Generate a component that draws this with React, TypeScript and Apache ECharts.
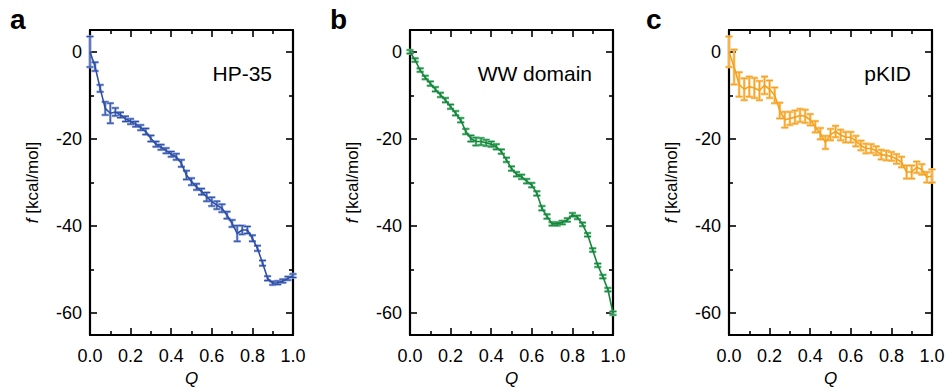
import React, { useEffect, useRef } from "react";
import * as echarts from "echarts";

const Q = [
  0, 0.025, 0.05, 0.075, 0.1, 0.125, 0.15, 0.175, 0.2, 0.225,
  0.25, 0.275, 0.3, 0.325, 0.35, 0.375, 0.4, 0.425, 0.45, 0.475,
  0.5, 0.525, 0.55, 0.575, 0.6, 0.625, 0.65, 0.675, 0.7, 0.725,
  0.75, 0.775, 0.8, 0.825, 0.85, 0.875, 0.9, 0.925, 0.95, 0.975, 1.0,
];

const hpF = [
  0, -3.4, -8.4, -13.0, -14.1, -13.8, -14.5, -15.4, -16.0, -16.6,
  -17.4, -18.3, -19.9, -21.2, -21.9, -22.7, -23.5, -24.1, -25.6, -28.3,
  -29.8, -31.0, -32.1, -33.3, -34.4, -35.2, -35.9, -37.5, -39.4, -41.7,
  -40.9, -40.9, -42.8, -45.1, -48.5, -52.0, -53.1, -53.0, -52.6, -52.0, -51.4,
];
const hpErr = [
  3.5, 1.0, 0.8, 1.5, 2.3, 0.9, 0.6, 0.6, 0.6, 0.6,
  0.6, 0.7, 0.7, 0.6, 0.6, 0.6, 0.6, 0.7, 0.8, 1.0,
  0.8, 0.7, 0.7, 1.0, 1.0, 0.9, 0.9, 0.8, 0.8, 1.8,
  1.0, 0.8, 0.7, 0.6, 0.6, 0.5, 0.4, 0.4, 0.4, 0.4, 0.4,
];

const wwF = [
  0, -1.9, -4.2, -5.9, -7.3, -8.6, -9.9, -11.1, -12.6, -14.1,
  -15.7, -18.3, -19.9, -20.6, -20.6, -20.9, -21.2, -21.8, -22.9, -24.8,
  -26.8, -28.1, -28.7, -29.7, -30.6, -32.5, -35.9, -37.8, -39.5, -39.5,
  -39.2, -38.6, -37.4, -38.0, -39.6, -42.0, -45.5, -49.0, -51.6, -54.6, -60.0,
];
const wwErr = [
  0.4, 0.4, 0.4, 0.4, 0.5, 0.5, 0.5, 0.5, 0.5, 0.5,
  0.5, 0.6, 0.7, 0.9, 0.8, 0.7, 0.6, 0.6, 0.5, 0.5,
  0.5, 0.5, 0.5, 0.5, 0.5, 0.5, 0.5, 0.5, 0.4, 0.4,
  0.4, 0.4, 0.4, 0.4, 0.4, 0.4, 0.4, 0.4, 0.4, 0.4, 0.4,
];

const pkF = [
  0, -3.5, -7.5, -8.6, -8.0, -8.3, -8.9, -7.7, -8.6, -10.0,
  -13.5, -15.6, -15.3, -15.0, -14.6, -14.8, -15.6, -17.2, -18.8, -20.8,
  -19.0, -18.3, -19.1, -19.6, -19.6, -20.5, -21.5, -22.2, -22.2, -22.7,
  -23.6, -23.8, -24.0, -24.6, -25.3, -27.6, -27.6, -26.5, -27.0, -28.8, -28.5,
];
const pkErr = [
  3.5, 4.0, 2.8, 2.5, 2.3, 2.3, 2.2, 2.0, 2.0, 1.8,
  1.8, 1.8, 1.5, 1.5, 1.5, 1.5, 1.3, 1.3, 1.3, 1.5,
  1.3, 1.3, 1.2, 1.2, 1.2, 1.2, 1.1, 1.1, 1.0, 1.0,
  1.1, 1.1, 1.0, 1.1, 1.2, 1.5, 1.5, 1.3, 1.2, 1.2, 1.5,
];

const yMajor = [-60, -40, -20, 0];
const yMinor = [-50, -30, -10];
const panelLetters = ["a", "b", "c"];
const panelTitles = ["HP-35", "WW domain", "pKID"];
const lineColors = ["#2d4fa6", "#16873c", "#f6a11c"];
const barLight = ["#93a6da", "#78c293", "#f9c77a"];
const gridLefts = [90, 410, 729];

const FONT = "'Liberation Sans', Arial, Helvetica, sans-serif";

export default function App() {
  const ref = useRef<HTMLDivElement>(null);
  useEffect(() => {
    if (!ref.current) return;
    const chart = echarts.init(ref.current, null, { renderer: "svg" });
    const datasets = [
      [hpF, hpErr],
      [wwF, wwErr],
      [pkF, pkErr],
    ];
    const grids: any[] = [];
    const xAxes: any[] = [];
    const yAxes: any[] = [];
    const series: any[] = [];
    const graphic: any[] = [];
    const GW = 203;
    const GT = 30;
    const GH = 305;

    datasets.forEach(([f, e], p) => {
      grids.push({
        left: gridLefts[p],
        top: GT,
        width: GW,
        height: GH,
        containLabel: false,
        outerBoundsMode: "none",
        show: true,
        borderColor: "#000",
        borderWidth: 2,
        backgroundColor: "transparent",
      });
      const baseX = {
        type: "value",
        gridIndex: p,
        min: 0,
        max: 1,
        interval: 0.2,
        splitLine: { show: false },
        axisLine: { show: true, onZero: false, lineStyle: { color: "#000", width: 2.2 } },
        axisTick: { show: true, inside: true, length: 7, lineStyle: { color: "#000", width: 1.6 } },
        minorTick: { show: true, splitNumber: 2, length: 4, lineStyle: { color: "#000", width: 1.6 } },
      };
      const xBase = xAxes.length;
      xAxes.push({
        ...baseX,
        position: "bottom",
        axisLabel: {
          color: "#000",
          fontSize: 18,
          fontFamily: FONT,
          margin: 12,
          formatter: (v: number) => v.toFixed(1),
        },
        name: "Q",
        nameLocation: "middle",
        nameGap: 28,
        nameTextStyle: { color: "#000", fontSize: 17, fontStyle: "italic", fontFamily: FONT },
      });
      xAxes.push({ ...baseX, position: "top", axisLabel: { show: false } });

      const yAx = (pos: string, ticks: number[], len: number, line: boolean, labels: boolean) => ({
        type: "value",
        gridIndex: p,
        min: -65,
        max: 5,
        position: pos,
        splitLine: { show: false },
        axisLine: { show: line, onZero: false, lineStyle: { color: "#000", width: 2.2 } },
        axisTick: {
          show: true,
          inside: true,
          length: len,
          customValues: ticks,
          lineStyle: { color: "#000", width: 1.6 },
        },
        axisLabel: labels
          ? {
              show: true,
              customValues: yMajor,
              color: "#000",
              fontSize: 18,
              fontFamily: FONT,
              margin: 8,
              formatter: (v: number) => String(v),
            }
          : { show: false },
        ...(labels
          ? {
              name: "{i|f} [kcal/mol]",
              nameLocation: "middle",
              nameGap: 49,
              nameTextStyle: {
                color: "#000",
                fontSize: 17,
                fontFamily: FONT,
                rich: { i: { fontStyle: "italic", fontSize: 17, fontFamily: FONT, color: "#000" } },
              },
            }
          : {}),
      });
      const yBase = yAxes.length;
      yAxes.push(yAx("left", yMajor, 7, true, true));
      yAxes.push(yAx("right", yMajor, 7, true, false));
      yAxes.push(yAx("left", yMinor, 4, false, false));
      yAxes.push(yAx("right", yMinor, 4, false, false));

      const errData = Q.map((q, i) => [q, f[i], e[i]]);
      const lineData = Q.map((q, i) => [q, f[i]]);
      const dark = lineColors[p];
      const light = barLight[p];
      series.push({
        type: "custom",
        xAxisIndex: xBase,
        yAxisIndex: yBase,
        clip: false,
        data: errData,
        encode: { x: 0, y: 1 },
        renderItem: (params: any, api: any) => {
          const x = api.value(0);
          const y = api.value(1);
          const er = api.value(2);
          const t = api.coord([x, y + er]);
          const b = api.coord([x, y - er]);
          const hw = 3.5;
          const mk = (stroke: string, w: number) => [
            { type: "line", shape: { x1: t[0], y1: t[1], x2: b[0], y2: b[1] }, style: { stroke, lineWidth: w } },
            { type: "line", shape: { x1: t[0] - hw, y1: t[1], x2: t[0] + hw, y2: t[1] }, style: { stroke, lineWidth: w } },
            { type: "line", shape: { x1: b[0] - hw, y1: b[1], x2: b[0] + hw, y2: b[1] }, style: { stroke, lineWidth: w } },
          ];
          return { type: "group", children: [...mk(light, 2.6), ...mk(dark, 1)] };
        },
        z: 2,
      });
      series.push({
        type: "line",
        xAxisIndex: xBase,
        yAxisIndex: yBase,
        data: lineData,
        showSymbol: false,
        lineStyle: { color: dark, width: 1.6 },
        itemStyle: { color: dark },
        z: 3,
      });
      // empty anchor series so that the extra frame axes are rendered
      [1, 2, 3].forEach((k) => {
        series.push({
          type: "line",
          xAxisIndex: xBase + (k === 1 ? 1 : 0),
          yAxisIndex: yBase + k,
          data: [],
          showSymbol: false,
          silent: true,
        });
      });

      graphic.push({
        type: "text",
        left: p === 0 ? 10 : p === 1 ? 330 : 646,
        top: 5,
        style: { text: panelLetters[p], fontSize: 28, fontWeight: "bold", fontFamily: FONT, fill: "#000" },
      });
      graphic.push({
        type: "text",
        x: gridLefts[p] + GW - 21,
        y: 73,
        style: {
          text: panelTitles[p],
          fontSize: 21,
          fontFamily: FONT,
          fill: "#000",
          align: "right",
          verticalAlign: "middle",
        },
      });
    });

    chart.setOption({
      animation: false,
      backgroundColor: "#fff",
      grid: grids,
      xAxis: xAxes,
      yAxis: yAxes,
      series,
      graphic,
    });
    return () => chart.dispose();
  }, []);
  return <div ref={ref} style={{ width: 950, height: 388, position: "absolute", left: 0, top: 0 }} />;
}
